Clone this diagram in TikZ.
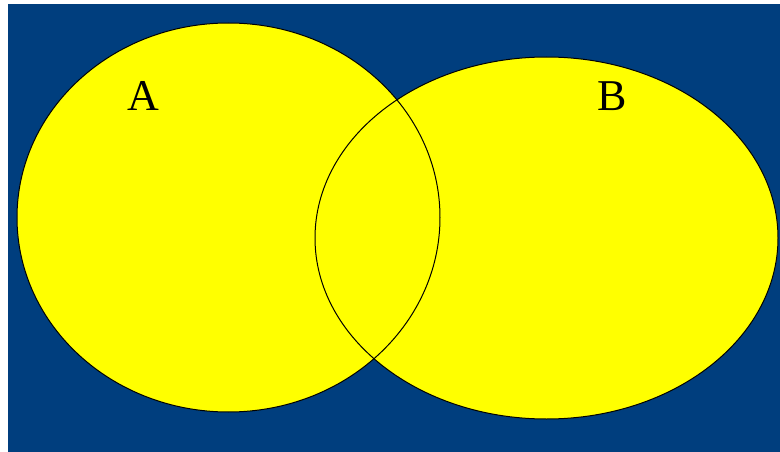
\documentclass[tikz,border=0pt]{standalone}
\usepackage{fontspec}
\setmainfont{Liberation Serif}
\definecolor{navy}{RGB}{0,62,126}
\definecolor{vyellow}{RGB}{255,255,0}
\tikzset{
  setfill/.style={fill=vyellow, draw=none},
  setline/.style={draw=black, line width=1pt},
  setlabel/.style={font=\fontsize{44}{44}\selectfont, text=black, inner sep=0pt}
}
\begin{document}
\begin{tikzpicture}[x=1pt,y=-1pt]
  \useasboundingbox (0,0) rectangle (780,452);
  \fill[white] (0,0) rectangle (780,452);
  \fill[navy] (8,4) rectangle (780,452);
  \begin{scope}
    \clip (8,4) rectangle (780,452);
    \fill[setfill] (228.5,217.5) ellipse [x radius=211.5, y radius=194.5];
    \fill[setfill] (546.5,238) ellipse [x radius=231.5, y radius=181];
    \draw[setline] (228.5,217.5) ellipse [x radius=211.5, y radius=194.5];
    \draw[setline] (546.5,238) ellipse [x radius=231.5, y radius=181];
  \end{scope}
  \node[setlabel] (A) at (143,96) {A};
  \node[setlabel] (B) at (612,96) {B};
\end{tikzpicture}
\end{document}
